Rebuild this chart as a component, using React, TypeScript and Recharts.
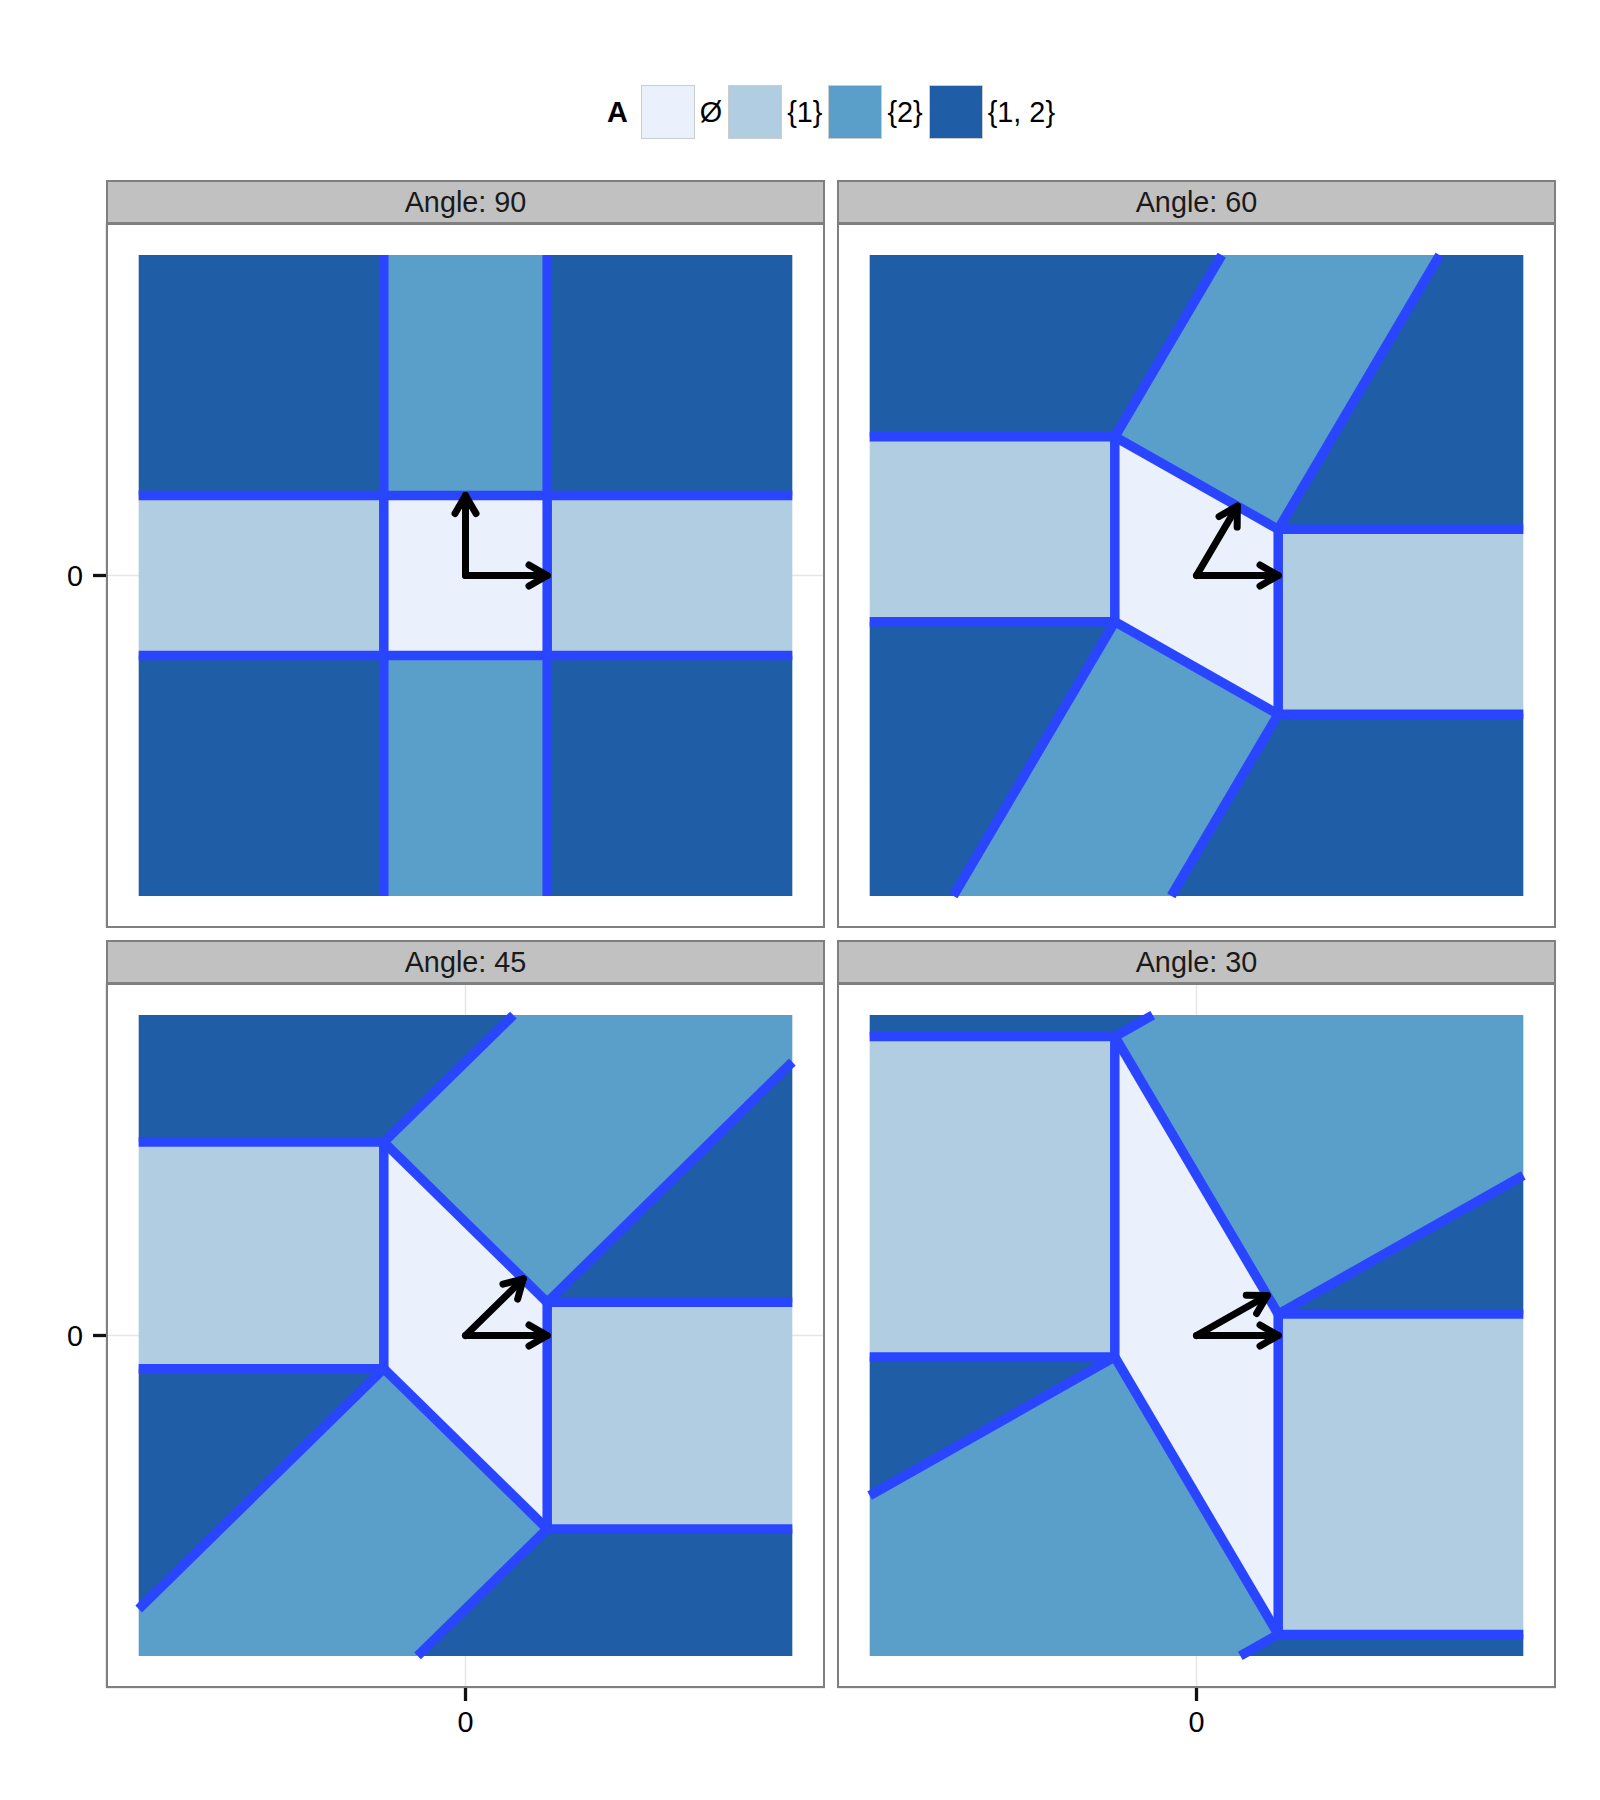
import { ScatterChart, Scatter, XAxis, YAxis, CartesianGrid } from "recharts"

const FONT = '"Liberation Sans", Arial, Helvetica, sans-serif'

type Pt = [number, number]
type Region = { set: number; pts: Pt[] }
type Seg = [number, number, number, number]

const angles = [90, 60, 45, 30]
const setLabels = ["Ø", "{1}", "{2}", "{1, 2}"]
const setColors = ["#EAF0FC", "#B0CDE1", "#5A9FCA", "#1F5DA6"]
const edgeColor = "#2A45FF"
const axisTicks = [0]
const origin: Pt = [0, 0]

// regions (set index -> setLabels)
const regions90: Region[] = [
  { set: 0, pts: [[1, 1], [-1, 1], [-1, -1], [1, -1]] },
  { set: 1, pts: [[1, -1], [4, -1], [4, 1], [1, 1]] },
  { set: 1, pts: [[-4, -1], [-1, -1], [-1, 1], [-4, 1]] },
  { set: 2, pts: [[-1, 1], [1, 1], [1, 4], [-1, 4]] },
  { set: 2, pts: [[-1, -1], [1, -1], [1, -4], [-1, -4]] },
  { set: 3, pts: [[1, 1], [4, 1], [4, 4], [1, 4]] },
  { set: 3, pts: [[1, -1], [4, -1], [4, -4], [1, -4]] },
  { set: 3, pts: [[-1, -1], [-4, -1], [-4, -4], [-1, -4]] },
  { set: 3, pts: [[-1, 1], [-4, 1], [-4, 4], [-1, 4]] },
]
const regions60: Region[] = [
  { set: 0, pts: [[1, 0.577], [-1, 1.732], [-1, -0.577], [1, -1.732]] },
  { set: 1, pts: [[1, -1.732], [4, -1.732], [4, 0.577], [1, 0.577]] },
  { set: 1, pts: [[-4, -0.577], [-1, -0.577], [-1, 1.732], [-4, 1.732]] },
  { set: 2, pts: [[-1, 1.732], [1, 0.577], [2.976, 4], [0.309, 4]] },
  { set: 2, pts: [[1, -1.732], [-1, -0.577], [-2.976, -4], [-0.309, -4]] },
  { set: 3, pts: [[1, 0.577], [4, 0.577], [4, 4], [2.976, 4]] },
  { set: 3, pts: [[-1, 1.732], [0.309, 4], [-4, 4], [-4, 1.732]] },
  { set: 3, pts: [[1, -1.732], [4, -1.732], [4, -4], [-0.309, -4]] },
  { set: 3, pts: [[-1, -0.577], [-2.976, -4], [-4, -4], [-4, -0.577]] },
]
const regions45: Region[] = [
  { set: 0, pts: [[1, 0.414], [-1, 2.414], [-1, -0.414], [1, -2.414]] },
  { set: 1, pts: [[1, -2.414], [4, -2.414], [4, 0.414], [1, 0.414]] },
  { set: 1, pts: [[-4, -0.414], [-1, -0.414], [-1, 2.414], [-4, 2.414]] },
  { set: 2, pts: [[-1, 2.414], [1, 0.414], [4, 3.414], [4, 4], [0.586, 4]] },
  { set: 2, pts: [[1, -2.414], [-1, -0.414], [-4, -3.414], [-4, -4], [-0.586, -4]] },
  { set: 3, pts: [[1, 0.414], [4, 0.414], [4, 3.414]] },
  { set: 3, pts: [[-1, 2.414], [0.586, 4], [-4, 4], [-4, 2.414]] },
  { set: 3, pts: [[1, -2.414], [4, -2.414], [4, -4], [-0.586, -4]] },
  { set: 3, pts: [[-1, -0.414], [-4, -0.414], [-4, -3.414]] },
]
const regions30: Region[] = [
  { set: 0, pts: [[1, 0.268], [-1, 3.732], [-1, -0.268], [1, -3.732]] },
  { set: 1, pts: [[1, -3.732], [4, -3.732], [4, 0.268], [1, 0.268]] },
  { set: 1, pts: [[-4, -0.268], [-1, -0.268], [-1, 3.732], [-4, 3.732]] },
  { set: 2, pts: [[-1, 3.732], [1, 0.268], [4, 2], [4, 4], [-0.536, 4]] },
  { set: 2, pts: [[1, -3.732], [-1, -0.268], [-4, -2], [-4, -4], [0.536, -4]] },
  { set: 3, pts: [[1, 0.268], [4, 0.268], [4, 2]] },
  { set: 3, pts: [[-1, 3.732], [-0.536, 4], [-4, 4], [-4, 3.732]] },
  { set: 3, pts: [[1, -3.732], [4, -3.732], [4, -4], [0.536, -4]] },
  { set: 3, pts: [[-1, -0.268], [-4, -0.268], [-4, -2]] },
]

// boundary segments x1, y1, x2, y2
const edges90: Seg[] = [
  [1, 1, -1, 1], [-1, 1, -1, -1], [-1, -1, 1, -1], [1, -1, 1, 1],
  [1, 1, 4, 1], [1, 1, 1, 4], [1, -1, 4, -1], [1, -1, 1, -4],
  [-1, -1, -4, -1], [-1, -1, -1, -4], [-1, 1, -4, 1], [-1, 1, -1, 4],
]
const edges60: Seg[] = [
  [1, 0.577, -1, 1.732], [-1, 1.732, -1, -0.577], [-1, -0.577, 1, -1.732], [1, -1.732, 1, 0.577],
  [1, 0.577, 4, 0.577], [1, 0.577, 2.976, 4], [1, -1.732, 4, -1.732], [1, -1.732, -0.309, -4],
  [-1, -0.577, -4, -0.577], [-1, -0.577, -2.976, -4], [-1, 1.732, -4, 1.732], [-1, 1.732, 0.309, 4],
]
const edges45: Seg[] = [
  [1, 0.414, -1, 2.414], [-1, 2.414, -1, -0.414], [-1, -0.414, 1, -2.414], [1, -2.414, 1, 0.414],
  [1, 0.414, 4, 0.414], [1, 0.414, 4, 3.414], [1, -2.414, 4, -2.414], [1, -2.414, -0.586, -4],
  [-1, -0.414, -4, -0.414], [-1, -0.414, -4, -3.414], [-1, 2.414, -4, 2.414], [-1, 2.414, 0.586, 4],
]
const edges30: Seg[] = [
  [1, 0.268, -1, 3.732], [-1, 3.732, -1, -0.268], [-1, -0.268, 1, -3.732], [1, -3.732, 1, 0.268],
  [1, 0.268, 4, 0.268], [1, 0.268, 4, 2], [1, -3.732, 4, -3.732], [1, -3.732, 0.536, -4],
  [-1, -0.268, -4, -0.268], [-1, -0.268, -4, -2], [-1, 3.732, -4, 3.732], [-1, 3.732, -0.536, 4],
]

// arrow tips (from origin)
const arrows90: Pt[] = [[1, 0], [0, 1]]
const arrows60: Pt[] = [[1, 0], [0.5, 0.866]]
const arrows45: Pt[] = [[1, 0], [0.707, 0.707]]
const arrows30: Pt[] = [[1, 0], [0.866, 0.5]]

const panels = [
  { regions: regions90, edges: edges90, arrows: arrows90, left: 0, top: 223, showX: false, showY: true },
  { regions: regions60, edges: edges60, arrows: arrows60, left: 837, top: 223, showX: false, showY: false },
  { regions: regions45, edges: edges45, arrows: arrows45, left: 0, top: 983, showX: true, showY: true },
  { regions: regions30, edges: edges30, arrows: arrows30, left: 837, top: 983, showX: true, showY: false },
]

const toXY = (pts: Pt[]) => pts.map(([x, y]) => ({ x, y }))
const noDot = () => <g />

const fillPoly = (fill: string) => (p: any) => (
  <polygon points={(p.points || []).map((q: any) => `${q.x},${q.y}`).join(" ")} fill={fill} stroke="none" />
)

const segLine = (p: any) => {
  const [a, b] = p.points || []
  if (!a || !b) return <g />
  return <line x1={a.x} y1={a.y} x2={b.x} y2={b.y} stroke={edgeColor} strokeWidth={9.5} />
}

const arrowLine = (p: any) => {
  const [a, b] = p.points || []
  if (!a || !b) return <g />
  const ang = Math.atan2(b.y - a.y, b.x - a.x)
  const len = 21
  const sp = Math.PI / 6
  const l = { x: b.x - len * Math.cos(ang - sp), y: b.y - len * Math.sin(ang - sp) }
  const r = { x: b.x - len * Math.cos(ang + sp), y: b.y - len * Math.sin(ang + sp) }
  return (
    <g stroke="#000" strokeWidth={7} strokeLinecap="round" strokeLinejoin="round" fill="none">
      <line x1={a.x} y1={a.y} x2={b.x} y2={b.y} />
      <polyline points={`${l.x},${l.y} ${b.x},${b.y} ${r.x},${r.y}`} />
    </g>
  )
}

const tickText = { fontSize: 28.8, fill: "#000", fontFamily: FONT }
const tickStroke = { stroke: "#111", strokeWidth: 3.3 }

function Panel({ regions, edges, arrows, showX, showY }: any) {
  return (
    <ScatterChart width={719 + (showY ? 106 : 0)} height={705 + (showX ? 60 : 0)} margin={{ top: 0, right: 0, bottom: 0, left: 0 }}>
      <CartesianGrid stroke="#E5E5E5" strokeWidth={1.5} />
      <XAxis
        type="number" dataKey="x" domain={[-4.4, 4.4]} ticks={axisTicks} allowDataOverflow
        height={showX ? 60 : 0} axisLine={false}
        tickLine={showX ? tickStroke : false}
        tick={showX ? tickText : false} tickSize={13} tickMargin={11}
      />
      <YAxis
        type="number" dataKey="y" domain={[-4.4, 4.4]} ticks={axisTicks} allowDataOverflow
        width={showY ? 106 : 0} axisLine={false}
        tickLine={showY ? tickStroke : false}
        tick={showY ? tickText : false} tickSize={13} tickMargin={10}
      />
      {regions.map((r: Region, i: number) => (
        <Scatter key={"r" + i} data={toXY(r.pts)} isAnimationActive={false} shape={noDot} line={fillPoly(setColors[r.set])} />
      ))}
      {edges.map((s: Seg, i: number) => (
        <Scatter key={"e" + i} data={toXY([[s[0], s[1]], [s[2], s[3]]])} isAnimationActive={false} shape={noDot} line={segLine} />
      ))}
      {arrows.map((t: Pt, i: number) => (
        <Scatter key={"a" + i} data={toXY([origin, t])} isAnimationActive={false} shape={noDot} line={arrowLine} />
      ))}
    </ScatterChart>
  )
}

export default function App() {
  return (
    <div style={{ position: "absolute", left: 0, top: 0, width: 1600, height: 1800, background: "#fff", fontFamily: FONT }}>
      {/* legend */}
      <div style={{ position: "absolute", left: 607, top: 85, height: 54, display: "flex", alignItems: "center", fontSize: 28.8, color: "#000" }}>
        <span style={{ fontWeight: "bold", marginRight: 13 }}>A</span>
        {setLabels.map((lab, i) => (
          <div key={lab} style={{ display: "flex", alignItems: "center" }}>
            <div style={{ width: 54, height: 54, boxSizing: "border-box", background: setColors[i], border: "1.5px solid #CCCCCC" }} />
            <span style={{ marginLeft: 5, marginRight: 6 }}>{lab}</span>
          </div>
        ))}
      </div>

      {panels.map((p, i) => {
        const bodyLeft = p.left + (p.showY ? 106 : 0)
        return (
          <div key={i}>
            <div style={{ position: "absolute", left: bodyLeft, top: p.top - 43, width: 719, height: 44, boxSizing: "border-box",
              background: "#C1C1C1", border: "2px solid #7F7F7F", display: "flex", alignItems: "center", justifyContent: "center",
              fontSize: 28.8, color: "#1A1A1A" }}>
              {"Angle: " + angles[i]}
            </div>
            <div style={{ position: "absolute", left: p.left, top: p.top }}>
              <Panel {...p} />
            </div>
            <div style={{ position: "absolute", left: bodyLeft, top: p.top, width: 719, height: 705, boxSizing: "border-box",
              border: "2px solid #7F7F7F", pointerEvents: "none" }} />
          </div>
        )
      })}
    </div>
  )
}
